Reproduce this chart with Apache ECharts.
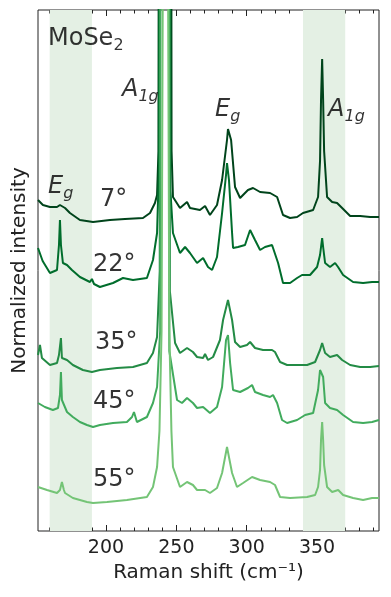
<!DOCTYPE html>
<html lang="en">
<head>
    <meta charset="utf-8">
    <title>MoSe2 Raman</title>
    <script src="https://cdn.jsdelivr.net/npm/echarts@6/dist/echarts.min.js"></script>
    <style>
        html, body { margin: 0; height: 100%; background: #fff; }
        #main { width: 391px; height: 597px; }
    </style>
</head>
<body>
    <div id="main"></div>
    <script type="text/javascript">
        // spectra: [Raman shift (cm-1), normalized intensity + offset]
        var spec7 = [[151.7,331],[155.2,326],[160.2,324],[165.2,324],[167.3,326],[170.9,323],[174.4,318],[181.5,311],[190.8,309],[202.8,311],[213.5,312],[226.3,313],[231.3,318],[234.8,328],[236.3,336],[237.3,380],[242,6000],[246.6,380],[247.6,334],[252.6,323],[257.6,329],[259.7,323],[266.8,321],[270.4,325],[273.9,316],[278.9,326],[282.5,351],[286.0,391],[286.7,402],[288.9,391],[291.7,344],[295.3,333],[300.9,341],[304.5,343],[309.5,339],[316.6,338],[321.6,334],[325.8,316],[330.8,313],[335.8,314],[340.0,318],[347.2,321],[350.7,334],[352.1,370],[352.8,431],[353.6,472],[354.3,431],[355.0,380],[357.1,334],[360.7,329],[364.2,328],[367.8,323],[373.5,315],[380.6,315],[387.7,314],[394,314]];
        var spec22 = [[151.7,283],[155,270],[160.2,258],[165.2,261],[166.6,286],[167.3,311],[168.0,286],[169.4,268],[172.3,266],[175.8,261],[181.5,254],[188.6,249],[190.0,252],[191.5,247],[195.7,244],[205.0,248],[212.1,253],[219.2,251],[229.1,253],[233.4,271],[236.3,298],[237.6,360],[241.8,6000],[245.8,340],[247.6,298],[252.6,278],[256.2,284],[259.7,278],[264.7,268],[269.0,273],[272.5,264],[275.4,261],[278.9,274],[282.5,318],[285.3,356],[286.0,368],[287.4,351],[289.6,298],[290.3,283],[293.8,284],[298.8,286],[302.4,301],[303.8,303],[305.9,291],[309.5,281],[313.0,284],[318.0,286],[318.7,284],[322.3,268],[325.8,248],[330.8,248],[335.8,253],[339.3,256],[345.0,256],[350.0,264],[352.1,276],[353.6,293],[354.3,284],[355.7,268],[359.2,264],[362.8,268],[364.9,264],[368.5,256],[375.6,249],[382.7,248],[389.1,249],[394,249]];
        var spec35 = [[151.7,176],[153.1,186],[154.5,173],[155.2,171],[160.2,166],[165.2,168],[166.6,176],[168.0,193],[168.7,173],[172.3,171],[176.5,166],[183.6,161],[190.0,159],[195.7,161],[207.8,163],[219.2,164],[229.1,168],[233.4,178],[236.3,194],[238.2,260],[242,6000],[245.4,240],[249.1,188],[252.6,178],[257.6,183],[261.8,179],[264.7,174],[269.0,173],[270.4,177],[272.5,171],[276.1,174],[281.0,191],[283.2,211],[286.7,231],[289.6,211],[291.7,189],[295.3,184],[300.2,186],[302.4,189],[305.9,183],[311.6,181],[318.0,181],[320.1,179],[323.7,169],[328.7,166],[335.8,166],[342.9,166],[348.6,169],[352.1,181],[353.6,188],[355.7,178],[359.2,174],[364.2,176],[367.8,171],[373.5,166],[380.6,164],[387.7,164],[394,165]];
        var spec45 = [[151.7,128],[156.6,124],[162.3,121],[165.9,123],[167.3,136],[168.0,159],[168.7,131],[172.3,119],[176.5,114],[181.5,109],[186.5,106],[190.8,104],[195.7,106],[205.0,108],[214.9,109],[218.5,114],[219.9,119],[222.0,109],[229.1,114],[233.4,128],[236.3,144],[238.5,200],[242,6000],[245,180],[250.5,131],[254.0,128],[257.6,133],[261.8,128],[264.7,123],[269.0,124],[270.4,126],[273.9,118],[278.9,124],[282.5,144],[285.3,191],[286.7,196],[288.2,168],[290.3,141],[295.3,139],[300.9,143],[303.8,146],[305.9,139],[311.6,136],[316.6,134],[318.7,136],[321.6,128],[325.1,111],[328.7,108],[335.8,111],[341.5,116],[347.2,118],[350.7,141],[352.1,161],[352.8,163],[354.3,154],[355.7,128],[359.2,123],[364.2,121],[368.5,116],[375.6,109],[382.7,108],[389.1,109],[394,111]];
        var spec55 = [[151.7,44],[158.1,41],[165.2,38],[167.3,41],[168.7,49],[170.1,41],[170.9,38],[176.5,33],[186.5,29],[190.8,28],[200.7,29],[214.9,31],[229.1,34],[233.4,44],[236.3,64],[238,100],[239.5,200],[240.5,600],[242.2,6000],[244,600],[245,200],[246.5,100],[247.6,64],[252.6,44],[257.6,49],[261.8,46],[264.7,41],[270.4,41],[273.9,38],[278.9,43],[282.5,58],[286.0,84],[286.7,83],[289.6,58],[293.1,44],[297.4,48],[303.8,54],[309.5,51],[316.6,49],[320.1,46],[323.7,34],[330.8,33],[342.9,34],[348.6,36],[350.7,44],[352.1,61],[352.8,91],[353.6,109],[354.3,91],[355.0,66],[357.1,44],[360.7,39],[365.0,41],[368.5,36],[375.6,33],[382.7,31],[389.1,33],[394,33]];

        var angles = ['7°', '22°', '35°', '45°', '55°'];
        var spectra = [spec7, spec22, spec35, spec45, spec55];
        var colors = ['#00441b', '#006d2c', '#238b45', '#41ab5d', '#74c476'];

        var bands = [[160, 190], [340, 370]];
        var majorTicks = [200, 250, 300, 350];
        var minorTicks = [160, 170, 180, 190, 210, 220, 230, 240, 260, 270, 280, 290, 310, 320, 330, 340, 360, 370, 380, 390];

        var xMin = 151.7, xMax = 394;
        var font = 'DejaVu Sans';

        var myChart = echarts.init(document.getElementById('main'));

        function tickAxis(pos, values, len, labels) {
            return {
                type: 'value', position: pos, min: xMin, max: xMax,
                axisLine: { show: false },
                splitLine: { show: false },
                axisTick: { show: true, inside: true, length: len, customValues: values,
                    lineStyle: { color: '#222', width: 1 } },
                axisLabel: labels ? { show: true, customValues: values, fontSize: 19, color: '#222',
                    fontFamily: font, margin: 8 } : { show: false }
            };
        }

        var xAxes = [tickAxis('bottom', majorTicks, 6, true),
            tickAxis('bottom', minorTicks, 3.5, false),
            tickAxis('top', majorTicks, 6, false),
            tickAxis('top', minorTicks, 3.5, false)];
        xAxes[0].name = 'Raman shift (cm⁻¹)';
        xAxes[0].nameLocation = 'middle';
        xAxes[0].nameGap = 30;
        xAxes[0].nameTextStyle = { fontSize: 20, color: '#222', fontFamily: font };

        var sub = { fontSize: 16, lineHeight: 16, verticalAlign: 'top', padding: [11, 0, 0, 0], fontFamily: font, color: '#000' };
        var big = { fontSize: 24, lineHeight: 24, verticalAlign: 'top', fontFamily: font, color: '#000' };
        var rich = {
            a: big,
            ai: Object.assign({}, big, { fontStyle: 'italic' }),
            s: sub,
            si: Object.assign({}, sub, { fontStyle: 'italic' })
        };

        // annotation anchors (top-left of the text) in data coordinates
        var notes = [
            { value: [158.8, 504], text: '{a|MoSe}{s|2}' },
            { value: [211.4, 453], text: '{ai|A}{si|1g}' },
            { value: [277.5, 433], text: '{ai|E}{si|g}' },
            { value: [357.8, 433], text: '{ai|A}{si|1g}' },
            { value: [158.8, 356], text: '{ai|E}{si|g}' },
            { value: [195.7, 343], text: '{a|' + angles[0] + '}' },
            { value: [190.8, 278], text: '{a|' + angles[1] + '}' },
            { value: [192.2, 200], text: '{a|' + angles[2] + '}' },
            { value: [190.8, 141], text: '{a|' + angles[3] + '}' },
            { value: [190.8, 63], text: '{a|' + angles[4] + '}' }
        ];

        var series = [{
            type: 'line', data: [], silent: true, z: 1,
            markArea: {
                silent: true,
                itemStyle: { color: '#e4f0e4' },
                data: bands.map(function (b) { return [{ xAxis: b[0] }, { xAxis: b[1] }]; })
            }
        }];
        spectra.forEach(function (s, i) {
            series.push({
                name: angles[i], type: 'line', data: s, showSymbol: false, symbol: 'none',
                clip: true, z: 2 + i,
                lineStyle: { color: colors[i], width: 2 }
            });
        });
        series.push({
            type: 'scatter', symbolSize: 0, silent: true, z: 10,
            data: notes.map(function (n) { return { value: n.value, text: n.text }; }),
            label: {
                show: true, position: [0, 0], align: 'left', verticalAlign: 'top',
                color: '#000', textBorderWidth: 0,
                formatter: function (p) { return p.data.text; },
                rich: rich
            }
        });

        var option = {
            animation: false,
            grid: { left: 38, right: 12, top: 10, bottom: 66, show: true, borderColor: '#222', borderWidth: 1 },
            xAxis: xAxes,
            yAxis: {
                type: 'value', min: 0, max: 521,
                axisLine: { show: false }, axisTick: { show: false }, axisLabel: { show: false },
                splitLine: { show: false },
                name: 'Normalized intensity', nameLocation: 'middle', nameGap: 8,
                nameTextStyle: { fontSize: 20, color: '#222', fontFamily: font }
            },
            series: series
        };

        myChart.setOption(option);
    </script>
</body>
</html>
